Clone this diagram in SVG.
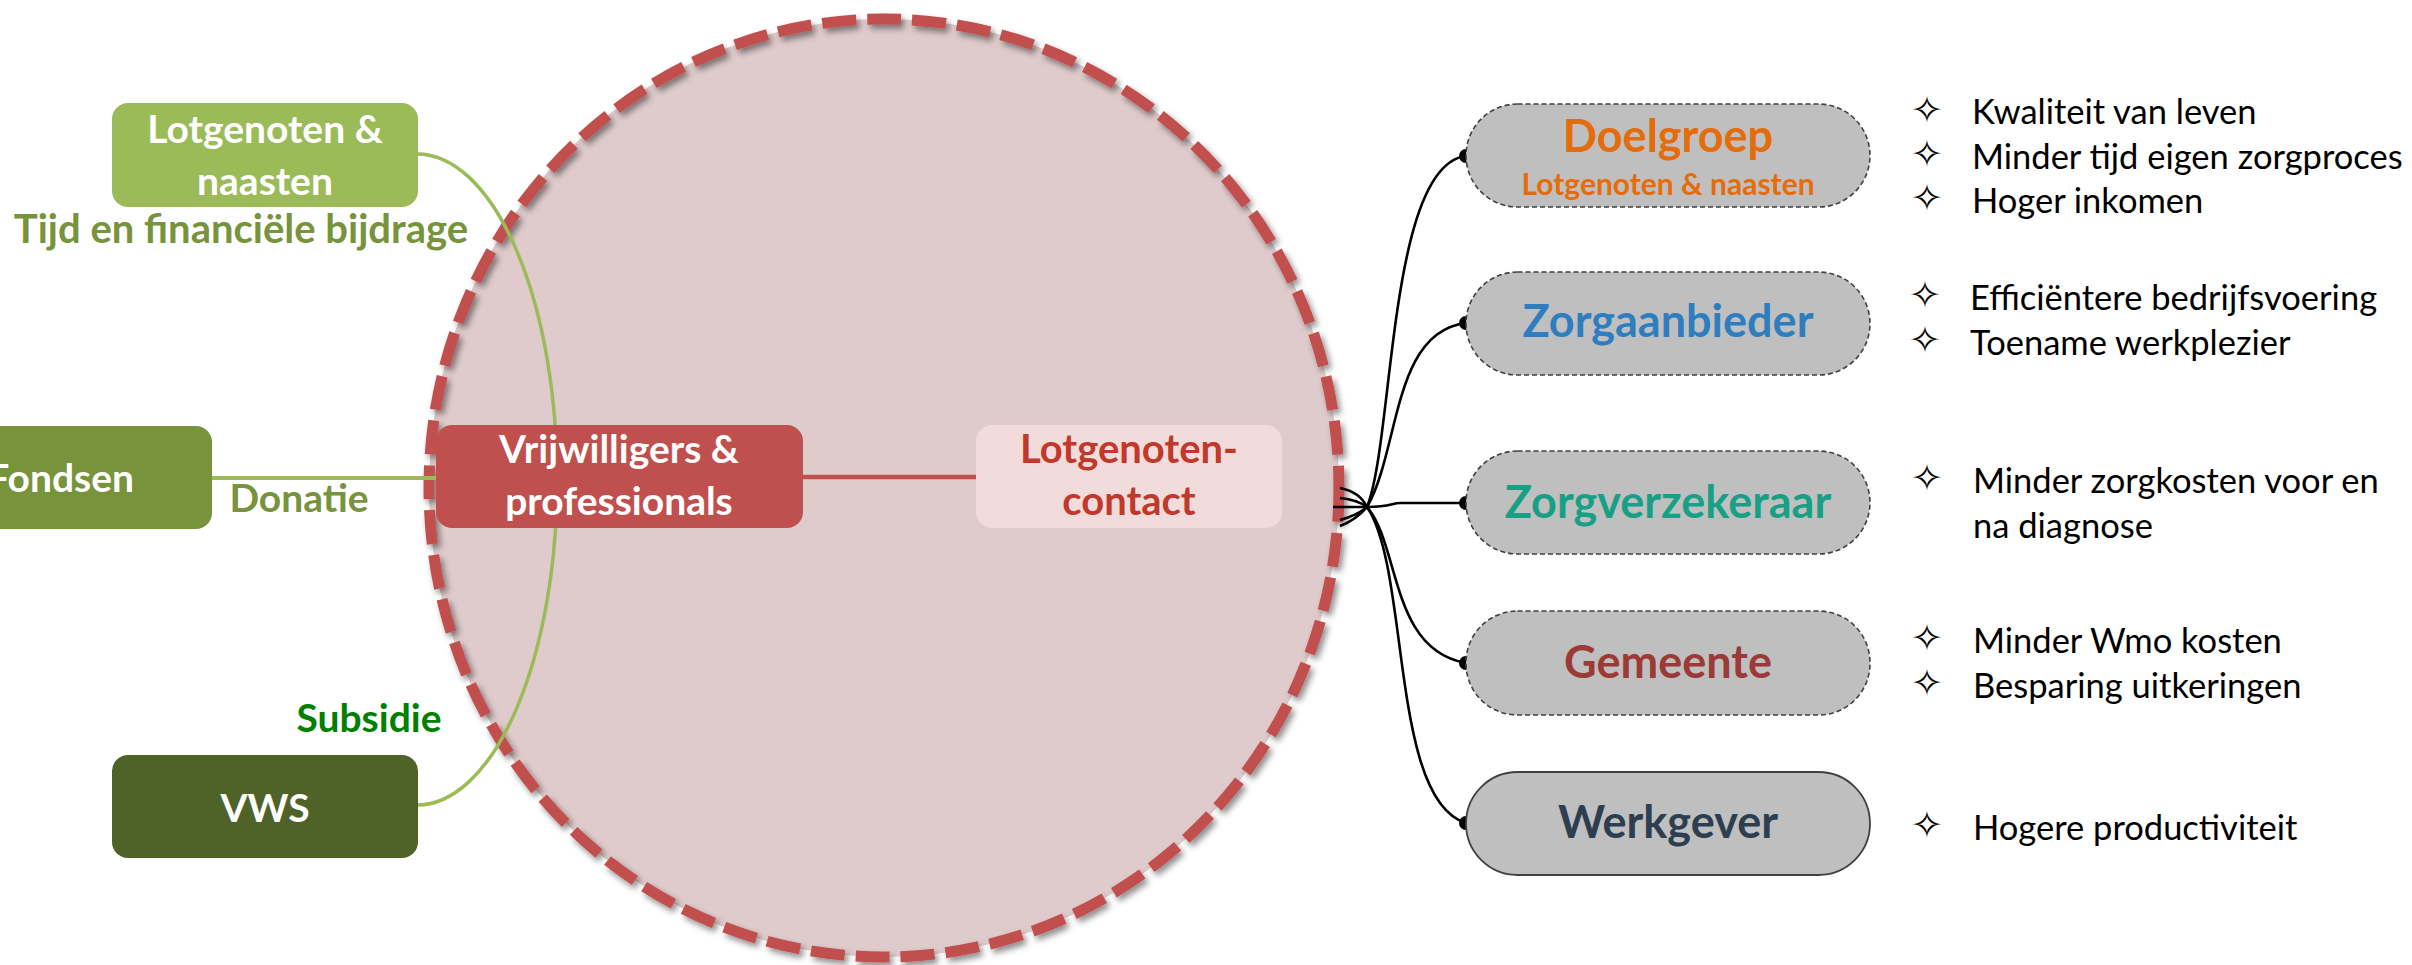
<svg xmlns="http://www.w3.org/2000/svg" width="2412" height="965" viewBox="0 0 2412 965">
<defs>
<style>
.b{font-family:Lato,"Open Sans","Liberation Sans",sans-serif;font-weight:700;text-anchor:middle}
.r{font-family:Lato,"Open Sans","Liberation Sans",sans-serif;font-weight:400;font-size:34.5px;fill:#000}
.star{font-family:"DejaVu Sans",sans-serif;font-size:38px;fill:#000;text-anchor:middle}
.w{fill:#fff;font-size:39px}
.pill{fill:#BFBFBF;stroke:#404040;stroke-width:1.6;stroke-dasharray:5 3}
.blk{fill:none;stroke:#000;stroke-width:2.6}
.dot{fill:#000}
</style>
<filter id="sh" x="-10%" y="-10%" width="120%" height="120%">
<feDropShadow dx="3" dy="4" stdDeviation="3" flood-color="#000" flood-opacity="0.45"/>
</filter>
</defs>

<g id="circle">
<ellipse cx="884" cy="488" rx="455" ry="469" fill="#DFCBCC"/>
<ellipse cx="884" cy="488" rx="455" ry="469" fill="none" stroke="#C0504D" stroke-width="11" stroke-dasharray="34 11" filter="url(#sh)"/>
</g>

<g id="connectors">
<path d="M417,154 A140,325 0 0 1 417,805" fill="none" stroke="#9BBB59" stroke-width="3.5"/>
<line x1="212" y1="478" x2="436" y2="478" stroke="#9BBB59" stroke-width="4"/>
<line x1="803" y1="477" x2="976" y2="477" stroke="#C0504D" stroke-width="4.5"/>
<path class="blk" d="M1340,526 Q1356,520 1367,507 C1394,440 1388,165 1466,156"/>
<path class="blk" d="M1340,520 Q1358,515 1367,507 C1400,450 1392,332 1466,323"/>
<path class="blk" d="M1333,507 L1367,507 C1390,507 1392,503 1400,503 L1466,503"/>
<path class="blk" d="M1340,498 Q1358,500 1367,507 C1400,545 1390,650 1466,663"/>
<path class="blk" d="M1340,488 Q1360,492 1367,507 C1410,570 1390,800 1466,823"/>
<circle class="dot" cx="1466" cy="156" r="7"/>
<circle class="dot" cx="1466" cy="323" r="7"/>
<circle class="dot" cx="1466" cy="503" r="7"/>
<circle class="dot" cx="1466" cy="663" r="7"/>
<circle class="dot" cx="1466" cy="823" r="7"/>
</g>

<g id="lotgenoten-naasten">
<rect x="112" y="103" width="306" height="104" rx="16" fill="#9BBB59"/>
<text class="b w" x="265" y="143">Lotgenoten &amp;</text>
<text class="b w" x="265" y="195">naasten</text>
</g>
<g id="label-tijd">
<text class="b" x="241" y="243" font-size="40" fill="#77933C">Tijd en financiële bijdrage</text>
</g>

<g id="fondsen">
<rect x="-90" y="426" width="302" height="103" rx="16" fill="#77933C"/>
<text class="w" x="134" y="492" font-family="Lato,'Open Sans',sans-serif" font-weight="700" text-anchor="end">Fondsen</text>
</g>
<g id="label-donatie">
<text class="b" x="299" y="512" font-size="39" fill="#77933C">Donatie</text>
</g>

<g id="vws">
<rect x="112" y="755" width="306" height="103" rx="16" fill="#4F6228"/>
<text class="b w" x="265" y="822">VWS</text>
</g>
<g id="label-subsidie">
<text class="b" x="369" y="732" font-size="39" fill="#008000">Subsidie</text>
</g>

<g id="vrijwilligers">
<rect x="436" y="425" width="367" height="103" rx="16" fill="#C0504D"/>
<text class="b w" x="619" y="463">Vrijwilligers &amp;</text>
<text class="b w" x="619" y="515">professionals</text>
</g>

<g id="lotgenotencontact">
<rect x="976" y="425" width="306" height="103" rx="16" fill="#F2DCDB"/>
<text class="b" x="1129" y="463" font-size="40" fill="#C0392B">Lotgenoten-</text>
<text class="b" x="1129" y="515" font-size="40" fill="#C0392B">contact</text>
</g>

<g id="doelgroep">
<rect class="pill" x="1466" y="104" width="404" height="103" rx="51.5"/>
<text class="b" x="1668" y="152" font-size="45" fill="#E46C0A">Doelgroep</text>
<text class="b" x="1668" y="195" font-size="30" fill="#E46C0A">Lotgenoten &amp; naasten</text>
</g>
<g id="zorgaanbieder">
<rect class="pill" x="1466" y="272" width="404" height="103" rx="51.5"/>
<text class="b" x="1668" y="337" font-size="45" fill="#2E7EBF">Zorgaanbieder</text>
</g>
<g id="zorgverzekeraar">
<rect class="pill" x="1466" y="451" width="404" height="103" rx="51.5"/>
<text class="b" x="1668" y="518" font-size="45" fill="#17A085">Zorgverzekeraar</text>
</g>
<g id="gemeente">
<rect class="pill" x="1466" y="611" width="404" height="104" rx="51.5"/>
<text class="b" x="1668" y="678" font-size="45" fill="#9B3A37">Gemeente</text>
</g>
<g id="werkgever">
<rect x="1466" y="772" width="404" height="103" rx="51.5" fill="#BFBFBF" stroke="#404040" stroke-width="1.8"/>
<text class="b" x="1668" y="838" font-size="45" fill="#2C3E50">Werkgever</text>
</g>

<g id="benefits">
<text class="star" x="1927" y="123">✧</text><text class="r" x="1972" y="124">Kwaliteit van leven</text>
<text class="star" x="1927" y="167">✧</text><text class="r" x="1972" y="169">Minder tijd eigen zorgproces</text>
<text class="star" x="1927" y="211">✧</text><text class="r" x="1972" y="213">Hoger inkomen</text>
<text class="star" x="1925" y="308">✧</text><text class="r" x="1970" y="310">Efficiëntere bedrijfsvoering</text>
<text class="star" x="1925" y="353">✧</text><text class="r" x="1970" y="355">Toename werkplezier</text>
<text class="star" x="1927" y="491">✧</text><text class="r" x="1973" y="493">Minder zorgkosten voor en</text>
<text class="r" x="1973" y="538">na diagnose</text>
<text class="star" x="1927" y="651">✧</text><text class="r" x="1973" y="653">Minder Wmo kosten</text>
<text class="star" x="1927" y="696">✧</text><text class="r" x="1973" y="698">Besparing uitkeringen</text>
<text class="star" x="1927" y="838">✧</text><text class="r" x="1973" y="840">Hogere productiviteit</text>
</g>
</svg>
